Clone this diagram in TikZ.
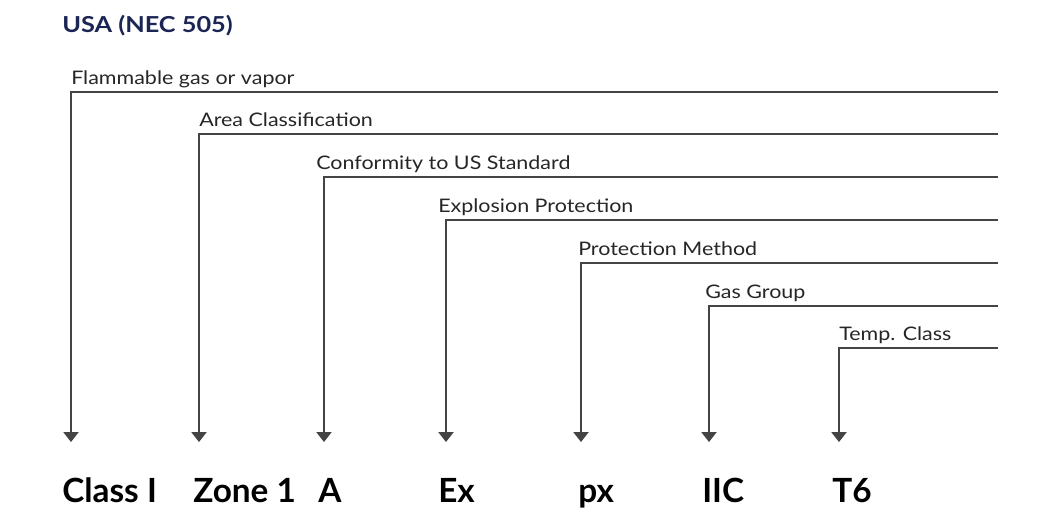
\documentclass[tikz,border=0pt]{standalone}
\usepackage{fontspec}
\setmainfont{Lato}
\newfontfamily\lblfont{Lato}[FakeStretch=1.15]
\newfontfamily\titlefont{Lato}[FakeStretch=1.15]
\usetikzlibrary{arrows.meta}
\definecolor{navy}{HTML}{1B2554}
\definecolor{linegray}{HTML}{444444}
\begin{document}
\begin{tikzpicture}[x=0.75pt,y=-0.75pt,
  lbl/.style={anchor=base west,inner sep=0pt,font=\lblfont\fontsize{14}{17}\selectfont,text=black!85},
  code/.style={anchor=base west,inner sep=0pt,font=\fontsize{25}{30}\selectfont\bfseries,text=black},
  conn/.style={draw=linegray,line width=1pt,-{Triangle[width=11.5pt,length=7.5pt]}}]
\useasboundingbox (0,0) rectangle (1052,511);
\node[anchor=base west,inner sep=0pt,font=\titlefont\fontsize{16.5}{19}\selectfont\bfseries,text=navy] (title) at (62,32) {USA (NEC 505)};
% top labels
\node[lbl] (l1) at (71,84) {Flammable gas or vapor};
\node[lbl] (l2) at (199,126) {Area Classification};
\node[lbl] (l3) at (316,169) {Conformity to US Standard};
\node[lbl] (l4) at (438,212) {Explosion Protection};
\node[lbl] (l5) at (578,255) {Protection Method};
\node[lbl] (l6) at (705,298) {Gas Group};
\node[lbl] (l7) at (839,340) {Temp. Class};
% line right ends
\coordinate (e1) at (998,92);
\coordinate (e2) at (998,134);
\coordinate (e3) at (998,177);
\coordinate (e4) at (998,220);
\coordinate (e5) at (998,263);
\coordinate (e6) at (998,306);
\coordinate (e7) at (998,348);
% arrow tips
\coordinate (t1) at (71,442);
\coordinate (t2) at (199,442);
\coordinate (t3) at (324,442);
\coordinate (t4) at (446,442);
\coordinate (t5) at (581,442);
\coordinate (t6) at (709,442);
\coordinate (t7) at (839,442);
% bottom codes
\node[code] (c1) at (62,502) {Class I};
\node[code] (c2) at (193,502) {Zone 1};
\node[code] (c3) at (318,502) {A};
\node[code] (c4) at (438,502) {Ex};
\node[code] (c5) at (578,502) {px};
\node[code] (c6) at (702,502) {IIC};
\node[code] (c7) at (832,502) {T6};
% connectors
\foreach \i in {1,...,7} {\draw[conn] (e\i) -| (t\i);}
\end{tikzpicture}
\end{document}
